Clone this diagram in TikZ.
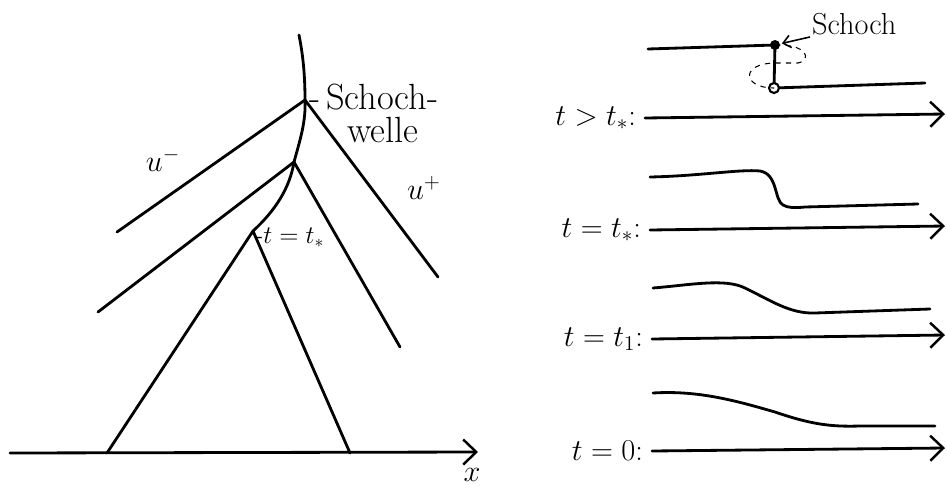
\documentclass[tikz,border=0pt]{standalone}
\usetikzlibrary{arrows.meta}
\begin{document}
\begin{tikzpicture}[
    x=0.02cm, y=-0.02cm,
    >={Straight Barb[length=2.6mm, width=5mm, line width=1.4pt]},
    font=\LARGE,
    every node/.style={inner sep=1pt},
    stroke/.style={line width=1.6pt, line cap=round, line join=round},
    axis/.style={stroke, ->},
    swirl/.style={line width=0.6pt, dashed},
    tlabel/.style={anchor=east, xshift=-4pt}
]
\useasboundingbox (0,0) rectangle (947,487);

    % x-t plane: axis
    \coordinate (xstart) at (10,453);
    \coordinate (xend) at (478,452);
    \draw [axis] (xstart) -- (xend);
    \node (xlab) at (472,475) {$x$};

    % shock curve
    \coordinate (apex) at (253,231);
    \coordinate (meet) at (294,162);
    \coordinate (upper) at (305,100);
    \coordinate (shocktop) at (299,35);
    \draw [stroke] (apex) .. controls (276,210) and (290,187) .. (meet)
        .. controls (300,140) and (306,122) .. (upper)
        .. controls (305,75) and (303,55) .. (shocktop);

    % characteristics
    \coordinate (footl) at (107,453);
    \coordinate (footr) at (350,453);
    \draw [stroke] (footl) -- (apex) -- (footr);
    \coordinate (meetl) at (98,312);
    \coordinate (meetr) at (400,347);
    \draw [stroke] (meetl) -- (meet) -- (meetr);
    \coordinate (upperl) at (117,232);
    \coordinate (upperr) at (438,277);
    \draw [stroke] (upperl) -- (upper) -- (upperr);

    % labels
    \node (uminus) at (163,160) {$u^-$};
    \node (uplus) at (424,188) {$u^+$};
    \node (schock) [anchor=west, font=\huge] at (307,97) {-\,Schoch-};
    \node (welle) [anchor=west, font=\huge] at (345,130) {welle};
    \node (tstar) [anchor=west, font=\Large] at (253,238) {-$t=t_*$};

    % profiles: t > t_*
    \coordinate (a1s) at (645,118);
    \coordinate (a1e) at (945,114);
    \draw [axis] (a1s) -- (a1e);
    \node (l1) [tlabel] at (a1s) {$t>t_*$:};
    \coordinate (left1) at (648,49);
    \coordinate (dot) at (775,45);
    \coordinate (circ) at (774,88);
    \coordinate (right1) at (925,83);
    \draw [stroke] (left1) -- (dot) -- (circ) -- (right1);
    \fill (dot) circle (5);
    \filldraw [fill=white, line width=1.2pt] (circ) circle (5);
    \draw [swirl] (dot) .. controls (808,44) and (812,60) .. (798,63)
        -- (776,63) .. controls (740,63) and (742,88) .. (circ);
    \node (schocklab) [anchor=west] at (810,24) {Schoch};
    \draw [line width=0.9pt, -{Straight Barb[length=1.5mm, width=2.5mm]}, shorten >=4pt]
        (schocklab.south west) -- (dot);

    % t = t_*
    \coordinate (a2s) at (650,230);
    \coordinate (a2e) at (945,226);
    \draw [axis] (a2s) -- (a2e);
    \node (l2) [tlabel] at (a2s) {$t=t_*$:};
    \draw [stroke] (650,177) .. controls (700,176) and (740,169) .. (760,171)
        .. controls (778,174) and (774,200) .. (783,205)
        .. controls (788,208) and (795,208) .. (805,207) -- (918,204);

    % t = t_1
    \coordinate (a3s) at (652,339);
    \coordinate (a3e) at (945,335);
    \draw [axis] (a3s) -- (a3e);
    \node (l3) [tlabel] at (a3s) {$t=t_1$:};
    \draw [stroke] (653,288) .. controls (690,285) and (725,278) .. (745,288)
        .. controls (770,300) and (790,314) .. (815,313) -- (930,309);

    % t = 0
    \coordinate (a4s) at (652,451);
    \coordinate (a4e) at (945,448);
    \draw [axis] (a4s) -- (a4e);
    \node (l4) [tlabel] at (a4s) {$t=0$:};
    \draw [stroke] (653,393) .. controls (700,390) and (740,402) .. (775,412)
        .. controls (810,424) and (830,427) .. (860,426) -- (935,426);

\end{tikzpicture}
\end{document}
